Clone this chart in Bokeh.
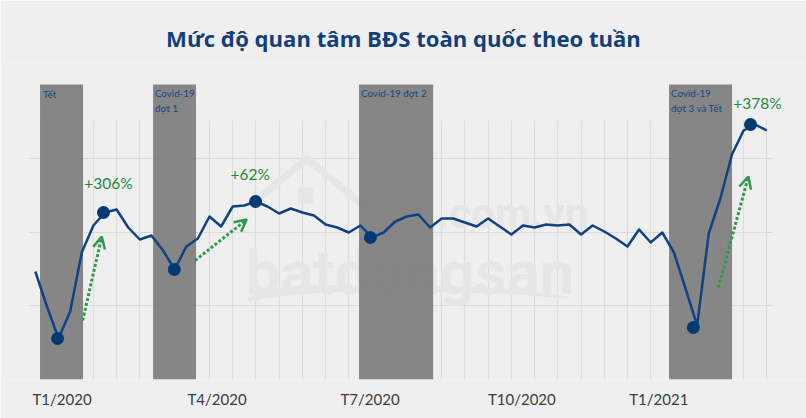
from bokeh.core.properties import value
from bokeh.embed import file_html
from bokeh.models import Arrow, FixedTicker, OpenHead, Range1d
from bokeh.plotting import figure
from bokeh.resources import INLINE

# weekly interest index, one value per week
weeks = list(range(64))
interest = [108, 73, 41, 68, 127, 154, 167, 170, 152, 140, 144, 129, 110, 133, 141, 163,
            153, 173, 174, 178, 173, 166, 171, 167, 164, 155, 152, 147, 154, 142, 147, 158,
            163, 165, 152, 161, 161, 157, 153, 161, 153, 145, 154, 152, 155, 154, 155, 145,
            154, 148, 141, 133, 150, 137, 147, 127, 91, 54, 146, 181, 225, 249, 255, 249]

# highlighted lows and highs
marker_weeks = [1.91, 5.87, 11.97, 18.97, 28.86, 56.67, 61.6]
marker_values = [41, 167, 110, 178, 142, 52, 255]

# shaded periods
band_start = [0.405, 10.14, 27.88, 54.58]
band_end = [4.11, 13.84, 34.26, 60.01]
band_top = 295

tick_weeks = [2.3, 15.65, 28.83, 41.9, 53.7]
tick_labels = ["T1/2020", "T4/2020", "T7/2020", "T10/2020", "T1/2021"]
grid_weeks = list(range(1, 64, 2))
grid_values = [0, 73.7, 147.4, 221.1]

# watermark outline
roof_x = [18.48, 23.40, 29.07]
roof_y = [174, 221, 166]
swoosh_x = [18.23, 19.53, 22.80, 31.41, 40.02, 46.06, 45.88, 40.02, 31.41, 24.52, 20.22, 18.49]
swoosh_y = [81, 89, 94, 95, 91, 83, 81, 86, 88, 87, 82, 78]

BG = "#efefef"
NAVY = "#0f4282"
GREEN = "#1f8a3f"
MARK = "#e6e6e6"

p = figure(width=806, height=418, output_backend="svg", toolbar_location=None,
           x_range=Range1d(-3.0, 66.42), y_range=Range1d(0, 317),
           min_border_left=0, min_border_right=0, min_border_top=62, min_border_bottom=39,
           background_fill_color=BG, border_fill_color=BG, outline_line_color=None)

p.title.text = "Mức độ quan tâm BĐS toàn quốc theo tuần"
p.title.align = "center"
p.title.text_font = "Open Sans"
p.title.text_font_style = "bold"
p.title.text_font_size = "22.1px"
p.title.text_color = "#123f7c"
p.title.offset = 4
p.title.standoff = 19

p.yaxis.visible = False
p.xaxis.ticker = FixedTicker(ticks=tick_weeks)
p.xaxis.major_label_overrides = dict(zip(tick_weeks, tick_labels))
p.xaxis.axis_line_color = None
p.xaxis.major_tick_line_color = None
p.xaxis.minor_tick_line_color = None
p.xaxis.major_tick_out = 0
p.xaxis.major_tick_in = 0
p.xaxis.major_label_text_font = "Lato"
p.xaxis.major_label_text_font_size = "15px"
p.xaxis.major_label_text_color = "#3b3b3b"
p.xaxis.major_label_standoff = 10

p.xgrid.ticker = FixedTicker(ticks=grid_weeks)
p.xgrid.cross_bounds = (0, 259)
p.xgrid.grid_line_color = "#dddddd"
p.xgrid.grid_line_width = 1.2
p.ygrid.ticker = FixedTicker(ticks=grid_values)
p.ygrid.cross_bounds = (-0.46, 63.45)
p.ygrid.grid_line_color = "#dadada"
p.ygrid.grid_line_width = 1.2

# faint site watermark
p.text([18.1], [107], text=["batdongsan"], text_font=value("Roboto"), text_font_style="bold",
       text_font_size="62px", text_color=MARK, text_baseline="alphabetic", text_align="left")
p.text([34.6], [166], text=[".com.vn"], text_font=value("Roboto"), text_font_style="bold",
       text_font_size="42px", text_color=MARK, text_baseline="alphabetic", text_align="left")
p.line(roof_x, roof_y, line_color=MARK, line_width=7)
p.quad(left=[22.63], right=[23.92], bottom=[176], top=[192], fill_color=MARK, line_color=None)
p.patch(swoosh_x, swoosh_y, fill_color=MARK, line_color=None)

p.quad(left=band_start, right=band_end, bottom=0, top=band_top, fill_color="#7a7a7a", fill_alpha=0.9, line_color=None)

p.line(weeks, interest, line_color=NAVY, line_width=2.5, line_join="round")
p.scatter(marker_weeks, marker_values, size=13, fill_color="#033a75", line_color=None)

arrow_head = dict(size=12, line_color="#2e9b4c", line_width=2.5)
for x0, y0, x1, y1 in [(4.08, 59, 5.72, 143), (13.76, 119, 18.21, 160), (58.83, 92, 61.41, 203)]:
    p.add_layout(Arrow(end=OpenHead(**arrow_head), x_start=x0, y_start=y0, x_end=x1, y_end=y1,
                       line_color="#2e9b4c", line_width=3, line_dash="3 2"))

p.text([6.3, 18.5, 62.2], [197, 206, 277], text=["+306%", "+62%", "+378%"], text_font=value("Lato"),
       text_font_size="15.5px", text_color=GREEN, text_align="center", text_baseline="middle")

p.text([0.65, 10.3, 28.05, 54.75, 10.3, 54.75], [286, 287, 287, 287, 272, 272],
       text=["Tết", "Covid-19", "Covid-19 đợt 2", "Covid-19", "đợt 1", "đợt 3 và Tết"],
       text_font=value("Lato"), text_font_size="9.8px", text_color="#16467f",
       text_align="left", text_baseline="middle")

open("out.html", "w").write(file_html(p, INLINE))
